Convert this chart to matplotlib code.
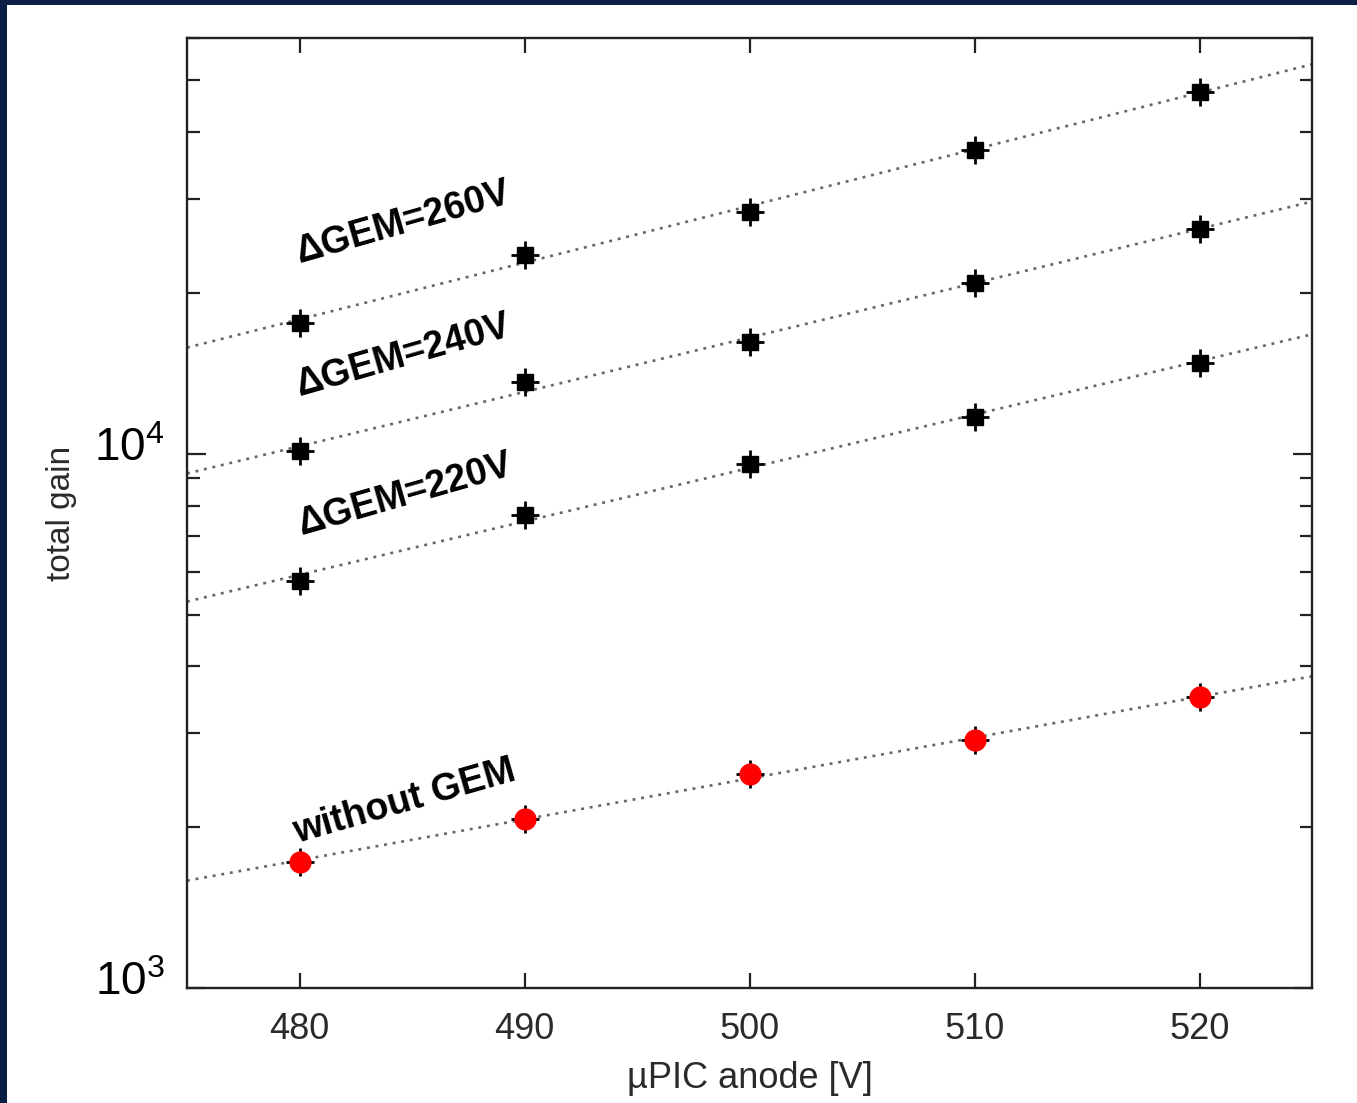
import numpy as np
import matplotlib.pyplot as plt
from matplotlib.patches import Rectangle
from matplotlib.ticker import LogLocator, NullFormatter
from matplotlib.transforms import blended_transform_factory, offset_copy

plt.rcParams['font.family'] = ['Liberation Sans', 'DejaVu Sans']
plt.rcParams['mathtext.fontset'] = 'custom'
plt.rcParams['mathtext.rm'] = 'Liberation Sans'
plt.rcParams['mathtext.default'] = 'regular'

# anode voltage [V] and measured total gain for each GEM setting
anode_v = [480, 490, 500, 510, 520]
gain_260 = [17600, 23600, 28400, 37100, 47600]
gain_240 = [10100, 13600, 16200, 20900, 26300]
gain_220 = [5770, 7690, 9580, 11700, 14800]
gain_nogem = [1720, 2070, 2520, 2910, 3500]

series_labels = ['ΔGEM=260V', 'ΔGEM=240V', 'ΔGEM=220V', 'without GEM']
x_ticks = [480, 490, 500, 510, 520]
y_ticks = [1e3, 1e4]

# where each curve name is written (left end of the baseline)
label_pos = [(480.0, 2.28e4), (480.0, 1.28e4), (480.1, 7.05e3), (479.9, 1.87e3)]

fig = plt.figure(figsize=(13.57, 11.03), dpi=100, facecolor='#0b1f45')
# white slide area, leaving a thin dark border on top and left
fig.patches.append(Rectangle((7 / 1357, 0), 1, 1 - 5 / 1103, transform=fig.transFigure,
                             facecolor='white', edgecolor='none', zorder=-5))

ax = fig.add_axes([187 / 1357, 1 - 988 / 1103, 1125 / 1357, 950 / 1103])
ax.set_zorder(1)
ax.set_yscale('log')
ax.set_xlim(475, 525)
ax.set_ylim(1e3, 6e4)

x_fit = np.array([475, 525])
all_gains = [gain_260, gain_240, gain_220, gain_nogem]
for i, g in enumerate(all_gains):
    coef = np.polyfit(anode_v, np.log10(g), 1)
    ax.plot(x_fit, 10 ** np.polyval(coef, x_fit), color='0.4', lw=1.9,
            linestyle=(0, (1.1, 2.2)), zorder=2)
    # crosshair error bars
    ax.plot(anode_v, g, linestyle='none', marker='+', ms=20, mew=2.0, color='black', zorder=3)
    if i < 3:
        ax.plot(anode_v, g, linestyle='none', marker='s', ms=11, color='black', zorder=4)
    else:
        ax.plot(anode_v, g, linestyle='none', marker='o', ms=15, color='#ff0000',
                markeredgecolor='#ff0000', zorder=4)

for (lx, ly), txt in zip(label_pos, series_labels):
    ax.text(lx, ly, txt, fontsize=27, fontweight='bold', rotation=16,
            rotation_mode='anchor', ha='left', va='baseline', zorder=5)

ax.set_xticks(x_ticks)
ax.set_xticklabels([str(v) for v in x_ticks])
ax.yaxis.set_major_locator(LogLocator(base=10))
ax.yaxis.set_minor_locator(LogLocator(base=10, subs=np.arange(2, 10)))
ax.yaxis.set_minor_formatter(NullFormatter())
ax.tick_params(which='both', direction='in', top=True, right=True,
               width=1.6, color='#222222', labelleft=False)
ax.tick_params(axis='x', which='major', length=11, pad=17, labelsize=26, labelcolor='#2a2a2a')
ax.tick_params(axis='y', which='major', length=14)
ax.tick_params(axis='y', which='minor', length=9)
for s in ax.spines.values():
    s.set_linewidth(1.7)
    s.set_color('#222222')

# decade labels on the left
ytrans = offset_copy(blended_transform_factory(ax.transAxes, ax.transData),
                     fig=fig, y=-5, units='points')
for v in y_ticks:
    ax.text(-0.02, v, '$10^{%d}$' % int(np.log10(v)), transform=ytrans,
            ha='right', va='baseline', fontsize=33, color='black')

ax.set_xlabel('µPIC anode [V]', fontsize=26, color='#2a2a2a', labelpad=10)
ax.set_ylabel('total gain', fontsize=24, color='#2a2a2a')
ax.yaxis.set_label_coords(-0.098, 0.5)

fig.savefig('out.png', dpi=100, facecolor=fig.get_facecolor())
